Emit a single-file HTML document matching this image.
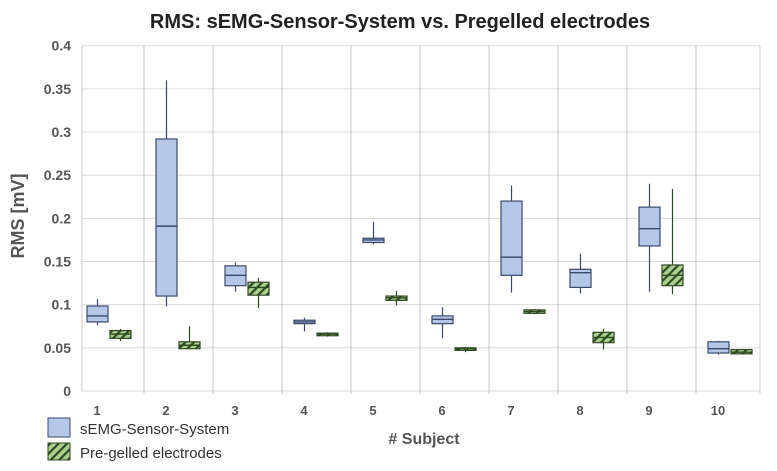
<!DOCTYPE html>
<html><head><meta charset="utf-8"><style>
body{margin:0;background:#fff;font-family:"Liberation Sans",sans-serif}
svg{display:block}
</style></head><body>
<svg id="c" width="777" height="471" xmlns="http://www.w3.org/2000/svg">
<defs>
<pattern id="hatch" patternUnits="userSpaceOnUse" width="6" height="6" patternTransform="rotate(45)">
<rect width="6" height="6" fill="#a9d08e"/><rect width="2.2" height="6" fill="#2f4a22"/>
</pattern>
</defs>
<text x="400" y="28" text-anchor="middle" font-size="20" font-weight="bold" fill="#222">RMS: sEMG-Sensor-System vs. Pregelled electrodes</text>
<text transform="translate(24,216) rotate(-90)" text-anchor="middle" font-size="18" font-weight="bold" fill="#555">RMS [mV]</text>
<text x="424" y="444" text-anchor="middle" font-size="16" font-weight="bold" fill="#555"># Subject</text>
<g id="grid"></g><g id="boxes"></g>
<rect x="48" y="418" width="22" height="19" fill="#b4c7e7" stroke="#3b4a6b"/>
<text x="80" y="434" font-size="15" fill="#333">sEMG-Sensor-System</text>
<rect x="48" y="443" width="22" height="17" fill="url(#hatch)" stroke="#2f4a22"/>
<text x="80" y="458" font-size="15" fill="#333">Pre-gelled electrodes</text>
</svg>
<script>
const subjects=['1','2','3','4','5','6','7','8','9','10'];
const yTicks=[0,0.05,0.1,0.15,0.2,0.25,0.3,0.35,0.4];
// [max, q3, median, q1, min]
const semg=[[0.1066,0.0985,0.087,0.080,0.076],[0.36,0.292,0.191,0.11,0.098],[0.149,0.145,0.134,0.122,0.115],[0.085,0.082,0.080,0.078,0.069],[0.196,0.177,0.175,0.172,0.170],[0.097,0.087,0.083,0.078,0.061],[0.238,0.220,0.155,0.134,0.114],[0.159,0.141,0.137,0.120,0.113],[0.240,0.213,0.188,0.168,0.115],[0.058,0.057,0.049,0.044,0.042]];
const pregel=[[0.072,0.070,0.066,0.061,0.058],[0.075,0.057,0.053,0.049,0.049],[0.131,0.126,0.120,0.111,0.096],[0.068,0.067,0.066,0.064,0.063],[0.116,0.110,0.108,0.105,0.099],[0.051,0.050,0.049,0.047,0.045],[0.095,0.094,0.092,0.090,0.089],[0.072,0.068,0.062,0.056,0.048],[0.234,0.146,0.134,0.122,0.112],[0.048,0.048,0.045,0.043,0.043]];
const NS='http://www.w3.org/2000/svg';
const y0=391,y1=45.7,vmax=0.4,x0=82,x1=760,gw=69,gs=75;
const Y=v=>y0-(v/vmax)*(y0-y1);
const G=i=>gs+i*gw;
function mk(p,t,a){const e=document.createElementNS(NS,t);for(const k in a)e.setAttribute(k,a[k]);p.appendChild(e);return e;}
const grid=document.getElementById('grid'),boxes=document.getElementById('boxes');
yTicks.forEach(t=>{
 const l=mk(grid,'line',{x1:x0,x2:x1,y1:Y(t),y2:Y(t),stroke:'#dcdcdc','stroke-width':1});
 
 
 const tx=mk(grid,'text',{x:71,y:Y(t)+5,'text-anchor':'end','font-size':14,'font-weight':'bold',fill:'#555'});
 tx.textContent=String(t);
 
 
});
mk(grid,'line',{x1:x0,x2:x0,y1:Y(0.4),y2:y0,stroke:'#ccc'});
mk(grid,'line',{x1:x1,x2:x1,y1:Y(0.4),y2:y0+3,stroke:'#ccc'});
subjects.forEach((s,i)=>{
 if(i>0){const d=mk(grid,'line',{x1:G(i),x2:G(i),y1:Y(0.4),y2:y0+3,stroke:'#b0b0b0','stroke-width':0.7});
 
 }
 const tx=mk(grid,'text',{x:G(i)+22,y:415,'text-anchor':'middle','font-size':13,'font-weight':'bold',fill:'#555'});
 tx.textContent=s;
 
 
});
function box(d,x,w,fill,stroke,name){
 const g=mk(boxes,'g',{});
 
 
 const cx=x+w/2;
 mk(g,'line',{x1:cx,x2:cx,y1:Y(d[0]),y2:Y(d[4]),stroke:stroke,'stroke-width':1.2});
 mk(g,'rect',{x:x,y:Y(d[1]),width:w,height:Math.max(1.5,Y(d[3])-Y(d[1])),fill:fill,stroke:stroke,'stroke-width':1.2});
 mk(g,'line',{x1:x,x2:x+w,y1:Y(d[2]),y2:Y(d[2]),stroke:stroke,'stroke-width':1.4});
}
subjects.forEach((s,i)=>{
 box(semg[i],G(i)+12,21,'#b4c7e7','#3b4a6b','semg-box-'+s);
 box(pregel[i],G(i)+35,21,'url(#hatch)','#2f4a22','pregelled-box-'+s);
});
</script>
</body></html>
